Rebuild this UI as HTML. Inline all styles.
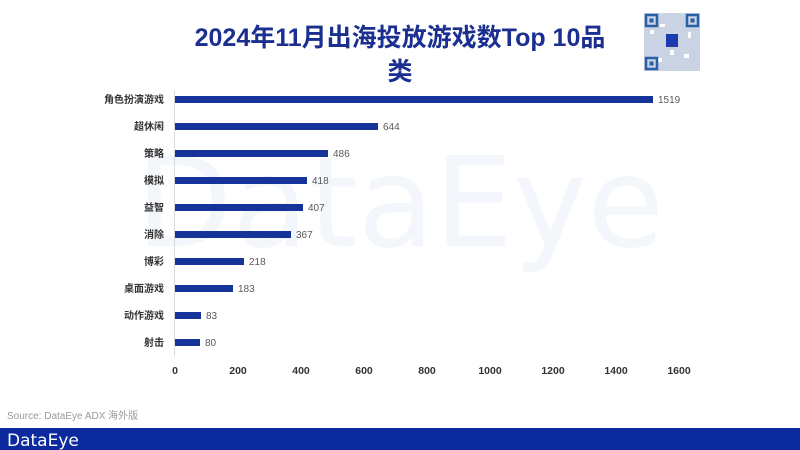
<!DOCTYPE html>
<html><head><meta charset="utf-8"><style>
body{margin:0;width:800px;height:450px;overflow:hidden;background:#fff;font-family:"Liberation Sans","Noto Sans CJK SC",sans-serif;}
</style></head><body>
<svg width="800" height="450" xmlns="http://www.w3.org/2000/svg" style="position:absolute;left:0;top:0">
<text x="400" y="212" text-anchor="middle" dominant-baseline="middle" font-family="DejaVu Sans, sans-serif" font-size="125" fill="#f3f6fb">DataEye</text>
<text x="400" y="46" text-anchor="middle" font-size="25" font-weight="bold" fill="#1a2f8f" font-family="Liberation Sans, Noto Sans CJK SC, sans-serif">2024年11月出海投放游戏数Top 10品</text>
<text x="400" y="80" text-anchor="middle" font-size="25" font-weight="bold" fill="#1a2f8f" font-family="Noto Sans CJK SC, sans-serif">类</text>
<rect x="644" y="13" width="56" height="58" fill="#c9d3e3"/>
<g fill="#fff"><rect x="650" y="30" width="4" height="4"/><rect x="660" y="24" width="5" height="3"/><rect x="670" y="50" width="4" height="5"/><rect x="684" y="54" width="5" height="4"/><rect x="658" y="58" width="4" height="4"/><rect x="688" y="32" width="3" height="6"/></g>
<g fill="none" stroke="#2b5fa8" stroke-width="2.5"><rect x="646" y="15" width="11" height="11"/><rect x="687" y="15" width="11" height="11"/><rect x="646" y="58" width="11" height="11"/></g>
<g fill="#2b5fa8"><rect x="649.5" y="18.5" width="4" height="4"/><rect x="690.5" y="18.5" width="4" height="4"/><rect x="649.5" y="61.5" width="4" height="4"/></g>
<rect x="666" y="34" width="12" height="13" fill="#1b3cae"/>
<line x1="174.5" y1="90" x2="174.5" y2="356" stroke="#d9d9d9" stroke-width="1"/>
<g fill="#16339a">
<rect x="175" y="96" width="478" height="7"/>
<rect x="175" y="123" width="203" height="7"/>
<rect x="175" y="150" width="153" height="7"/>
<rect x="175" y="177" width="132" height="7"/>
<rect x="175" y="204" width="128" height="7"/>
<rect x="175" y="231" width="116" height="7"/>
<rect x="175" y="258" width="69" height="7"/>
<rect x="175" y="285" width="58" height="7"/>
<rect x="175" y="312" width="26" height="7"/>
<rect x="175" y="339" width="25" height="7"/>
</g>
<g font-size="10" fill="#595959">
<text x="658" y="103">1519</text><text x="383" y="130">644</text><text x="333" y="157">486</text><text x="312" y="184">418</text><text x="308" y="211">407</text><text x="296" y="238">367</text><text x="249" y="265">218</text><text x="238" y="292">183</text><text x="206" y="319">83</text><text x="205" y="346">80</text>
</g>
<g font-size="10" font-weight="bold" fill="#333" text-anchor="end" font-family="Noto Sans CJK SC, sans-serif">
<text x="164" y="103">角色扮演游戏</text><text x="164" y="130">超休闲</text><text x="164" y="157">策略</text><text x="164" y="184">模拟</text><text x="164" y="211">益智</text><text x="164" y="238">消除</text><text x="164" y="265">博彩</text><text x="164" y="292">桌面游戏</text><text x="164" y="319">动作游戏</text><text x="164" y="346">射击</text>
</g>
<g font-size="10.5" font-weight="bold" fill="#333" text-anchor="middle">
<text x="175" y="374">0</text><text x="238" y="374">200</text><text x="301" y="374">400</text><text x="364" y="374">600</text><text x="427" y="374">800</text><text x="490" y="374">1000</text><text x="553" y="374">1200</text><text x="616" y="374">1400</text><text x="679" y="374">1600</text>
</g>
<text x="7" y="419" font-size="10" fill="#999" font-family="Liberation Sans, Noto Sans CJK SC, sans-serif">Source: DataEye ADX 海外版</text>
<rect x="0" y="428" width="800" height="22" fill="#0b2a9e"/>
<text x="7" y="446" font-size="17" fill="#fff" font-family="DejaVu Sans, sans-serif">DataEye</text>
</svg>
</body></html>
